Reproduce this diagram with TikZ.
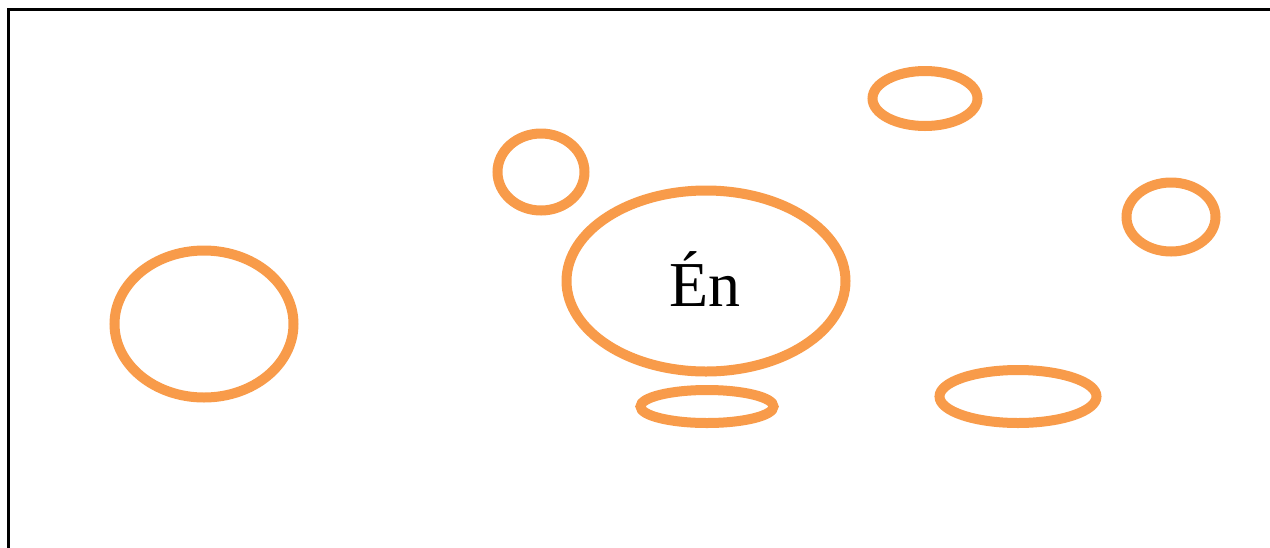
\documentclass[tikz,border=0pt]{standalone}
\usepackage{fontspec}
\setmainfont{Liberation Serif}
\definecolor{ringorange}{HTML}{F89B4A}
\begin{document}
\begin{tikzpicture}[x=1pt,y=-1pt,
  ring/.style={draw=ringorange,line width=10pt}]
\useasboundingbox (0,0) rectangle (1270,547);
\draw[line width=3.5pt,line cap=rect] (8.5,560) -- (8.5,9.5) -- (1290,9.5);
\draw[ring] (204,324) ellipse [x radius=89.5,y radius=73.5];
\draw[ring] (541,172) ellipse [x radius=43.5,y radius=38.5];
\draw[ring] (706,281) ellipse [x radius=139.5,y radius=90.5];
\draw[ring] (925,98.5) ellipse [x radius=52.5,y radius=27.5];
\draw[ring] (1171,217) ellipse [x radius=44.5,y radius=34.5];
\draw[ring] (707,406.5) ellipse [x radius=66.5,y radius=16.5];
\draw[ring] (1018,396.5) ellipse [x radius=78.5,y radius=26.5];
\node[font=\fontsize{64}{70}\selectfont,anchor=base] (en) at (705,306) {Én};
\end{tikzpicture}
\end{document}
